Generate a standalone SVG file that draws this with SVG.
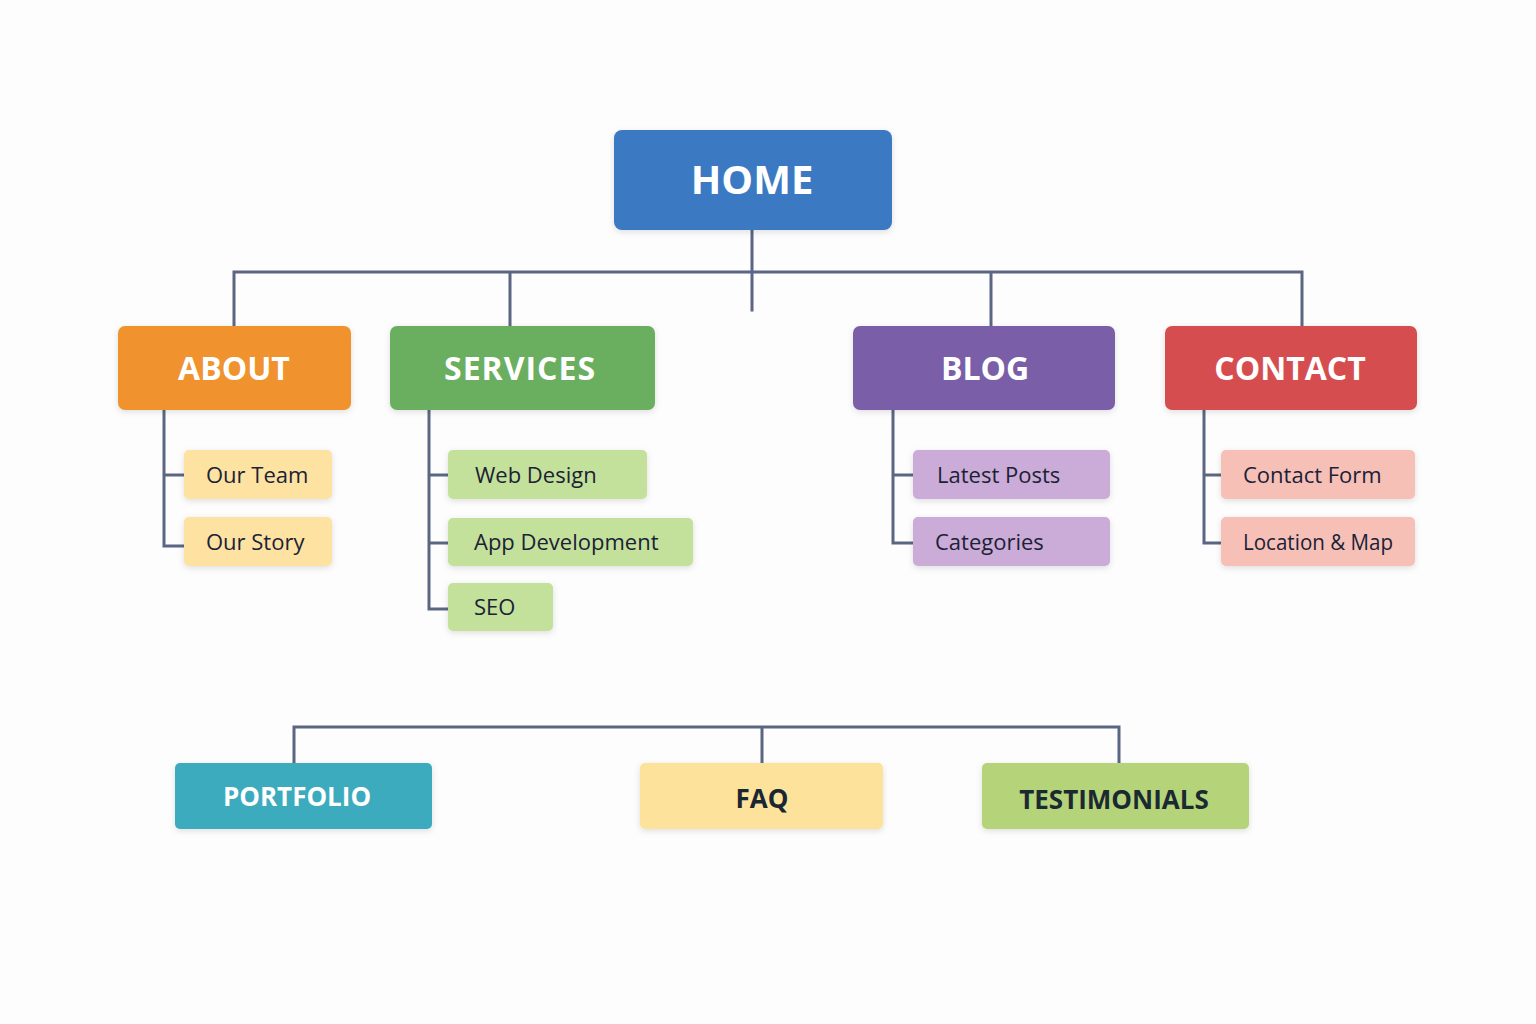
<svg xmlns="http://www.w3.org/2000/svg" width="1536" height="1024" viewBox="0 0 1536 1024">
<defs>
<filter id="sh" x="-10%" y="-10%" width="120%" height="140%">
<feDropShadow dx="0" dy="2" stdDeviation="3" flood-color="#000" flood-opacity="0.12"/>
</filter>
<style>
.ln{fill:none;stroke:#5b6782;stroke-width:3;stroke-linecap:square;stroke-linejoin:miter}
.box{filter:url(#sh)}
.t1{font-family:"Open Sans","Noto Sans","Liberation Sans",sans-serif;font-weight:700;fill:#fff;text-anchor:middle}
.t2{font-family:"Open Sans","Noto Sans","Liberation Sans",sans-serif;font-weight:400;font-size:22px;fill:#1b2236}
.t3{font-family:"Open Sans","Noto Sans","Liberation Sans",sans-serif;font-weight:700;font-size:26px;text-anchor:middle}
</style>
</defs>
<rect width="1536" height="1024" fill="#fdfdfd"/>
<g id="connectors">
<path class="ln" d="M752 230 V310 M234 272 H1302 M234 272 V325 M510 272 V325 M991 272 V325 M1302 272 V325"/>
<path class="ln" d="M164 410 V546 H184 M164 475 H184"/>
<path class="ln" d="M429 410 V609 H448 M429 475 H448 M429 543 H448"/>
<path class="ln" d="M893 410 V543 H913 M893 475 H913"/>
<path class="ln" d="M1204 410 V543 H1221 M1204 475 H1221"/>
<path class="ln" d="M294 763 V727 H1119 V763 M762 727 V763"/>
</g>
<g id="home"><rect class="box" x="614" y="130" width="278" height="100" rx="8" fill="#3A7AC3"/><text class="t1" x="752" y="194" font-size="40">HOME</text></g>
<g id="about"><rect class="box" x="118" y="326" width="233" height="84" rx="7" fill="#F0922E"/><text class="t1" x="234" y="380" font-size="32">ABOUT</text></g>
<g id="services"><rect class="box" x="390" y="326" width="265" height="84" rx="7" fill="#6BAF5E"/><text class="t1" x="520" y="380" font-size="32" letter-spacing="1">SERVICES</text></g>
<g id="blog"><rect class="box" x="853" y="326" width="262" height="84" rx="7" fill="#7A5EA8"/><text class="t1" x="985" y="380" font-size="32">BLOG</text></g>
<g id="contact"><rect class="box" x="1165" y="326" width="252" height="84" rx="7" fill="#D64E4F"/><text class="t1" x="1290" y="380" font-size="32">CONTACT</text></g>
<g id="our-team"><rect class="box" x="184" y="450" width="148" height="49" rx="5" fill="#FDE2A1"/><text class="t2" x="206" y="483">Our Team</text></g>
<g id="our-story"><rect class="box" x="184" y="517" width="148" height="49" rx="5" fill="#FDE2A1"/><text class="t2" x="206" y="550">Our Story</text></g>
<g id="web-design"><rect class="box" x="448" y="450" width="199" height="49" rx="5" fill="#C3E19A"/><text class="t2" x="475" y="483">Web Design</text></g>
<g id="app-development"><rect class="box" x="448" y="518" width="245" height="48" rx="5" fill="#C3E19A"/><text class="t2" x="474" y="550">App Development</text></g>
<g id="seo"><rect class="box" x="448" y="583" width="105" height="48" rx="5" fill="#C3E19A"/><text class="t2" x="474" y="615">SEO</text></g>
<g id="latest-posts"><rect class="box" x="913" y="450" width="197" height="49" rx="5" fill="#CBABD7"/><text class="t2" x="937" y="483">Latest Posts</text></g>
<g id="categories"><rect class="box" x="913" y="517" width="197" height="49" rx="5" fill="#CBABD7"/><text class="t2" x="935" y="550">Categories</text></g>
<g id="contact-form"><rect class="box" x="1221" y="450" width="194" height="49" rx="5" fill="#F6C0B6"/><text class="t2" x="1243" y="483">Contact Form</text></g>
<g id="location-map"><rect class="box" x="1221" y="517" width="194" height="49" rx="5" fill="#F6C0B6"/><text class="t2" x="1243" y="550" textLength="150" lengthAdjust="spacingAndGlyphs">Location &amp; Map</text></g>
<g id="portfolio"><rect class="box" x="175" y="763" width="257" height="66" rx="5" fill="#3AABBD"/><text class="t3" x="297" y="806" fill="#fff">PORTFOLIO</text></g>
<g id="faq"><rect class="box" x="640" y="763" width="243" height="66" rx="5" fill="#FDE29C"/><text class="t3" x="762" y="808" fill="#1a2630">FAQ</text></g>
<g id="testimonials"><rect class="box" x="982" y="763" width="267" height="66" rx="5" fill="#B5D47A"/><text class="t3" x="1114" y="809" fill="#1a2a30">TESTIMONIALS</text></g>
</svg>
